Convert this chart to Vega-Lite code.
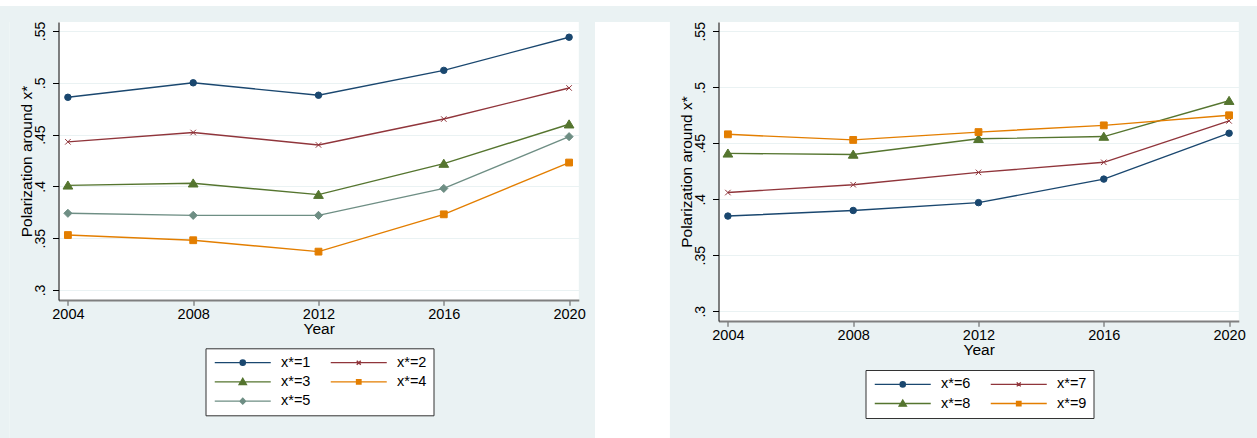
{
  "$schema": "https://vega.github.io/schema/vega-lite/v6.json",
  "background": "#eaf2f3",
  "padding": 0,
  "spacing": 0,
  "config": {
    "font": "Liberation Sans",
    "view": {"fill": "white", "stroke": null},
    "axis": {"labelFont": "Liberation Sans", "titleFont": "Liberation Sans", "titleFontWeight": "normal", "labelColor": "#000", "titleColor": "#000", "labelFlush": false},
    "legend": {"labelFont": "Liberation Sans", "labelColor": "#000", "title": null, "orient": "none", "columns": 2, "direction": "horizontal", "symbolSize": 64, "symbolStrokeWidth": 1.4, "symbolOffset": 23, "labelFontSize": 14.5, "labelOffset": 31, "columnPadding": 17, "rowPadding": 4.3, "padding": 7, "strokeColor": "#333333", "fillColor": "#ffffff", "symbolOpacity": 1}
  },
  "vconcat": [
    {
      "width": 1257,
      "height": 6,
      "data": {"values": [{"a": 1}]},
      "mark": {"type": "rect", "color": "white"},
      "encoding": {"x": {"value": 0}, "x2": {"value": "width"}, "y": {"value": 0}, "y2": {"value": "height"}}
    },
    {
      "spacing": 9.5,
      "resolve": {
        "scale": {"x": "independent", "y": "independent", "fill": "independent", "stroke": "independent", "shape": "independent"},
        "legend": {"fill": "independent", "stroke": "independent", "shape": "independent"}
      },
      "hconcat": [
        {
          "width": 9.7,
          "height": 432,
          "data": {"values": [{"a": 1}]},
          "mark": {"type": "rect", "color": "#eaf2f3"},
          "encoding": {"x": {"value": 0}, "x2": {"value": "width"}, "y": {"value": 0}, "y2": {"value": "height"}}
        },
        {
          "width": 520.3,
          "height": 278,
          "title": {"text": " ", "fontSize": 1, "offset": 14, "frame": "group"},
          "data": {"values": [
            {"series": "x*=1", "year": 2004, "value": 0.486}, {"series": "x*=1", "year": 2008, "value": 0.500}, {"series": "x*=1", "year": 2012, "value": 0.488}, {"series": "x*=1", "year": 2016, "value": 0.512}, {"series": "x*=1", "year": 2020, "value": 0.544},
            {"series": "x*=2", "year": 2004, "value": 0.443}, {"series": "x*=2", "year": 2008, "value": 0.452}, {"series": "x*=2", "year": 2012, "value": 0.440}, {"series": "x*=2", "year": 2016, "value": 0.465}, {"series": "x*=2", "year": 2020, "value": 0.495},
            {"series": "x*=3", "year": 2004, "value": 0.401}, {"series": "x*=3", "year": 2008, "value": 0.403}, {"series": "x*=3", "year": 2012, "value": 0.392}, {"series": "x*=3", "year": 2016, "value": 0.422}, {"series": "x*=3", "year": 2020, "value": 0.460},
            {"series": "x*=4", "year": 2004, "value": 0.353}, {"series": "x*=4", "year": 2008, "value": 0.348}, {"series": "x*=4", "year": 2012, "value": 0.337}, {"series": "x*=4", "year": 2016, "value": 0.373}, {"series": "x*=4", "year": 2020, "value": 0.423},
            {"series": "x*=5", "year": 2004, "value": 0.374}, {"series": "x*=5", "year": 2008, "value": 0.372}, {"series": "x*=5", "year": 2012, "value": 0.372}, {"series": "x*=5", "year": 2016, "value": 0.398}, {"series": "x*=5", "year": 2020, "value": 0.448}
          ]},
          "encoding": {
            "x": {"field": "year", "type": "quantitative", "scale": {"domain": [2003.7, 2020.31], "nice": false, "zero": false},
              "axis": {"values": [2004, 2008, 2012, 2016, 2020], "format": "d", "grid": false, "title": "Year", "titleFontSize": 15.5, "titlePadding": 0.5, "labelFontSize": 14.5, "labelPadding": 2.5, "tickSize": 5.3, "tickColor": "#555", "domainColor": "#7f7f7f", "domainWidth": 1.8}},
            "y": {"field": "value", "type": "quantitative", "scale": {"domain": [0.2903, 0.5587], "nice": false, "zero": false},
              "axis": {"values": [0.3, 0.35, 0.4, 0.45, 0.5, 0.55], "labelExpr": "substring(format(datum.value, '.2~f'), 1)", "labelAngle": -90, "labelFontSize": 14, "labelPadding": 5, "tickSize": 6, "tickColor": "#000", "domainColor": "#000", "domainWidth": 1, "grid": true, "gridColor": "#eaf2f3", "gridWidth": 1.2, "title": "Polarization around x*", "titleFontSize": 15.5, "titlePadding": -1}},
            "stroke": {"field": "series", "type": "nominal", "scale": {"domain": ["x*=1", "x*=2", "x*=3", "x*=4", "x*=5"], "range": ["#1a476f", "#90353b", "#55752f", "#e37e00", "#6e8e84"]},
              "legend": {"legendX": 147, "legendY": 326.3,
                "encoding": {"symbols": {
                  "shape": {"value": {"expr": "['M-7,0L7,0M-0.65,0A0.65,0.65,0,1,0,0.65,0A0.65,0.65,0,1,0,-0.65,0Z','M-7,0L7,0M-0.5,-0.5L0.5,0.5M0.5,-0.5L-0.5,0.5','M-7,0L7,0M0,-0.85L0.9,0.65L-0.9,0.65Z','M-7,0L7,0M-0.55,-0.55L0.55,-0.55L0.55,0.55L-0.55,0.55Z','M-7,0L7,0M0,-0.7L0.7,0L0,0.7L-0.7,0Z'][indexof(['x*=1','x*=2','x*=3','x*=4','x*=5'],datum.value)]"}},
                  "strokeWidth": {"value": 1.4}
                }}}}
          },
          "layer": [
            {"mark": {"type": "line", "strokeWidth": 1.4}, "encoding": {}},
            {"mark": {"type": "point", "filled": true, "opacity": 1, "size": 42, "strokeWidth": 1},
             "encoding": {
               "fill": {"field": "series", "type": "nominal", "scale": {"domain": ["x*=1", "x*=2", "x*=3", "x*=4", "x*=5"], "range": ["#1a476f", "#90353b", "#55752f", "#e37e00", "#6e8e84"]},
                 "legend": {"legendX": 147, "legendY": 326.3,
                   "encoding": {"symbols": {
                     "shape": {"value": {"expr": "['M-7,0L7,0M-0.65,0A0.65,0.65,0,1,0,0.65,0A0.65,0.65,0,1,0,-0.65,0Z','M-7,0L7,0M-0.5,-0.5L0.5,0.5M0.5,-0.5L-0.5,0.5','M-7,0L7,0M0,-0.85L0.9,0.65L-0.9,0.65Z','M-7,0L7,0M-0.55,-0.55L0.55,-0.55L0.55,0.55L-0.55,0.55Z','M-7,0L7,0M0,-0.7L0.7,0L0,0.7L-0.7,0Z'][indexof(['x*=1','x*=2','x*=3','x*=4','x*=5'],datum.value)]"}},
                     "strokeWidth": {"value": 1.4}
                   }}}},
               "shape": {"field": "series", "type": "nominal", "scale": {"domain": ["x*=1", "x*=2", "x*=3", "x*=4", "x*=5", "none"], "range": ["circle", "M-0.85,-0.85L0.85,0.85M0.85,-0.85L-0.85,0.85", "M0,-1.35L1.5,1.15L-1.5,1.15Z", "M-1.05,-1.05L1.05,-1.05L1.05,1.05L-1.05,1.05Z", "M0,-1.25L1.25,0L0,1.25L-1.25,0Z", "circle"]}, "legend": null}
             }}
          ]
        },
        {
          "width": 74.7,
          "height": 432,
          "data": {"values": [{"a": 1}]},
          "mark": {"type": "rect", "color": "white"},
          "encoding": {"x": {"value": 0}, "x2": {"value": "width"}, "y": {"value": 0}, "y2": {"value": "height"}}
        },
        {
          "width": 520.3,
          "height": 299,
          "title": {"text": " ", "fontSize": 1, "offset": 14, "frame": "group"},
          "data": {"values": [
            {"series": "x*=6", "year": 2004, "value": 0.385}, {"series": "x*=6", "year": 2008, "value": 0.390}, {"series": "x*=6", "year": 2012, "value": 0.397}, {"series": "x*=6", "year": 2016, "value": 0.418}, {"series": "x*=6", "year": 2020, "value": 0.459},
            {"series": "x*=7", "year": 2004, "value": 0.406}, {"series": "x*=7", "year": 2008, "value": 0.413}, {"series": "x*=7", "year": 2012, "value": 0.424}, {"series": "x*=7", "year": 2016, "value": 0.433}, {"series": "x*=7", "year": 2020, "value": 0.470},
            {"series": "x*=8", "year": 2004, "value": 0.441}, {"series": "x*=8", "year": 2008, "value": 0.440}, {"series": "x*=8", "year": 2012, "value": 0.454}, {"series": "x*=8", "year": 2016, "value": 0.456}, {"series": "x*=8", "year": 2020, "value": 0.488},
            {"series": "x*=9", "year": 2004, "value": 0.458}, {"series": "x*=9", "year": 2008, "value": 0.453}, {"series": "x*=9", "year": 2012, "value": 0.460}, {"series": "x*=9", "year": 2016, "value": 0.466}, {"series": "x*=9", "year": 2020, "value": 0.475}
          ]},
          "encoding": {
            "x": {"field": "year", "type": "quantitative", "scale": {"domain": [2003.7, 2020.31], "nice": false, "zero": false},
              "axis": {"values": [2004, 2008, 2012, 2016, 2020], "format": "d", "grid": false, "title": "Year", "titleFontSize": 15.5, "titlePadding": 0.5, "labelFontSize": 14.5, "labelPadding": 2.5, "tickSize": 5.3, "tickColor": "#555", "domainColor": "#7f7f7f", "domainWidth": 1.8}},
            "y": {"field": "value", "type": "quantitative", "scale": {"domain": [0.2913, 0.5583], "nice": false, "zero": false},
              "axis": {"values": [0.3, 0.35, 0.4, 0.45, 0.5, 0.55], "labelExpr": "substring(format(datum.value, '.2~f'), 1)", "labelAngle": -90, "labelFontSize": 14, "labelPadding": 5, "tickSize": 6, "tickColor": "#000", "domainColor": "#000", "domainWidth": 1, "grid": true, "gridColor": "#eaf2f3", "gridWidth": 1.2, "title": "Polarization around x*", "titleFontSize": 15.5, "titlePadding": -1}},
            "stroke": {"field": "series", "type": "nominal", "scale": {"domain": ["x*=6", "x*=7", "x*=8", "x*=9"], "range": ["#1a476f", "#90353b", "#55752f", "#e37e00"]},
              "legend": {"legendX": 147, "legendY": 348,
                "encoding": {"symbols": {
                  "shape": {"value": {"expr": "['M-7,0L7,0M-0.65,0A0.65,0.65,0,1,0,0.65,0A0.65,0.65,0,1,0,-0.65,0Z','M-7,0L7,0M-0.5,-0.5L0.5,0.5M0.5,-0.5L-0.5,0.5','M-7,0L7,0M0,-0.85L0.9,0.65L-0.9,0.65Z','M-7,0L7,0M-0.55,-0.55L0.55,-0.55L0.55,0.55L-0.55,0.55Z'][indexof(['x*=6','x*=7','x*=8','x*=9'],datum.value)]"}},
                  "strokeWidth": {"value": 1.4}
                }}}}
          },
          "layer": [
            {"mark": {"type": "line", "strokeWidth": 1.4}, "encoding": {}},
            {"mark": {"type": "point", "filled": true, "opacity": 1, "size": 42, "strokeWidth": 1},
             "encoding": {
               "fill": {"field": "series", "type": "nominal", "scale": {"domain": ["x*=6", "x*=7", "x*=8", "x*=9"], "range": ["#1a476f", "#90353b", "#55752f", "#e37e00"]},
                 "legend": {"legendX": 147, "legendY": 348,
                   "encoding": {"symbols": {
                     "shape": {"value": {"expr": "['M-7,0L7,0M-0.65,0A0.65,0.65,0,1,0,0.65,0A0.65,0.65,0,1,0,-0.65,0Z','M-7,0L7,0M-0.5,-0.5L0.5,0.5M0.5,-0.5L-0.5,0.5','M-7,0L7,0M0,-0.85L0.9,0.65L-0.9,0.65Z','M-7,0L7,0M-0.55,-0.55L0.55,-0.55L0.55,0.55L-0.55,0.55Z'][indexof(['x*=6','x*=7','x*=8','x*=9'],datum.value)]"}},
                     "strokeWidth": {"value": 1.4}
                   }}}},
               "shape": {"field": "series", "type": "nominal", "scale": {"domain": ["x*=6", "x*=7", "x*=8", "x*=9", "none"], "range": ["circle", "M-0.85,-0.85L0.85,0.85M0.85,-0.85L-0.85,0.85", "M0,-1.35L1.5,1.15L-1.5,1.15Z", "M-1.05,-1.05L1.05,-1.05L1.05,1.05L-1.05,1.05Z", "circle"]}, "legend": null}
             }}
          ]
        }
      ]
    }
  ]
}
